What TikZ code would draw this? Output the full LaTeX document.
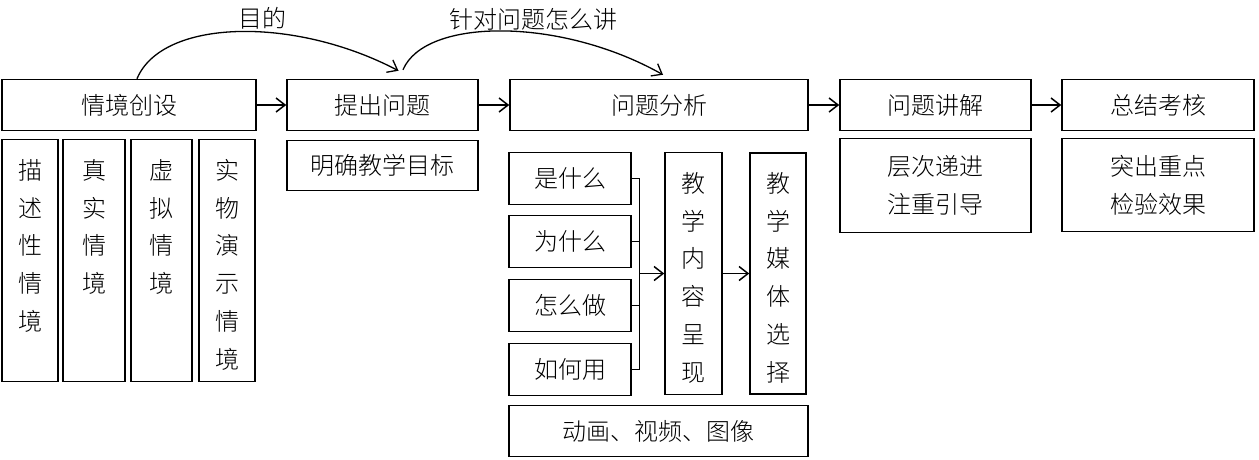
\documentclass[tikz,border=0pt]{standalone}
\usepackage{fontspec}
\IfFontExistsTF{Noto Sans CJK SC Light}
	{\setmainfont{Noto Sans CJK SC Light}}
	{\setmainfont{Noto Sans CJK SC}}
\usetikzlibrary{positioning,arrows.meta,calc}
\newcommand{\jxfont}{\fontsize{24pt}{37.7pt}\selectfont}
\newcommand{\jxvert}[1]{\parbox[c][202pt][t]{26pt}{\centering #1}}
\tikzset{
	jxbox/.style={
		draw,
		line width=1.5pt,
		align=center,
		inner sep=0pt,
		font=\jxfont
	},
	jxStep/.style={jxbox, minimum height=51pt},
	jxCol/.style={jxbox, minimum height=242pt},
	jxItem/.style={jxbox, minimum width=122pt, minimum height=52pt},
	jxLine/.style={line width=1.5pt},
	jxFlow/.style={-{Straight Barb[length=9pt,width=14pt]}, line width=1.5pt},
	jxArc/.style={-{Straight Barb[length=9pt,width=14pt]}, line width=1.3pt}
}

\begin{document}
\begin{tikzpicture}[x=1pt, y=-1pt]
	\useasboundingbox (0,0) rectangle (1259,459);

	% Main steps
	\node[jxStep, minimum width=254pt] (qjcs) at (129,105) {情境创设};
	\node[jxStep, minimum width=191pt, right=29.5pt of qjcs] (tcwt) {提出问题};
	\node[jxStep, minimum width=298pt, right=30.5pt of tcwt] (wtfx) {问题分析};
	\node[jxStep, minimum width=191pt, right=30.5pt of wtfx] (wtjj) {问题讲解};
	\node[jxStep, minimum width=192pt, right=29.5pt of wtjj] (zjkh) {总结考核};

	% Situation types
	\node[jxCol, minimum width=56pt, below right=7.5pt and 0pt of qjcs.south west] (msx) {\jxvert{描\\述\\性\\情\\境}};
	\node[jxCol, minimum width=62pt, right=3.5pt of msx] (zsqj) {\jxvert{真\\实\\情\\境}};
	\node[jxCol, minimum width=61pt, right=4.5pt of zsqj] (xnqj) {\jxvert{虚\\拟\\情\\境}};
	\node[jxCol, minimum width=56pt, right=5.5pt of xnqj] (swys) {\jxvert{实\\物\\演\\示\\情\\境}};

	% Goal
	\node[jxbox, minimum width=191pt, minimum height=50pt, below=8.5pt of tcwt] (mqmb) {明确教学目标};

	% Analysis items
	\node[jxItem, below right=20.5pt and -1pt of wtfx.south west] (smm) {是什么};
	\node[jxItem, below=9.5pt of smm] (wsm) {为什么};
	\node[jxItem, below=10.5pt of wsm] (zmz) {怎么做};
	\node[jxItem, below=10.5pt of zmz] (rhy) {如何用};
	\node[jxCol, minimum width=57pt, right=32.5pt of smm.north east, anchor=north west] (nrcx) {\jxvert{教\\学\\内\\容\\呈\\现}};
	\node[jxCol, minimum width=56pt, minimum height=241pt, right=26.5pt of nrcx] (mtxz) {\jxvert{教\\学\\媒\\体\\选\\择}};
	\node[jxbox, minimum width=299pt, minimum height=51pt, below right=8.5pt and 0pt of rhy.south west] (dhsp) {动画、视频、图像};

	% Explanation and summary
	\node[jxbox, minimum width=191pt, minimum height=94pt, below=6.5pt of wtjj] (ccdj) {层次递进\\注重引导};
	\node[jxbox, minimum width=192pt, minimum height=93pt, below=6.5pt of zjkh] (tczd) {突出重点\\检验效果};

	% Flows
	\draw[jxFlow] (qjcs) -- (tcwt);
	\draw[jxFlow] (tcwt) -- (wtfx);
	\draw[jxFlow] (wtfx) -- (wtjj);
	\draw[jxFlow] (wtjj) -- (zjkh);

	\coordinate[left=25pt of nrcx.west] (hub);
	\foreach \q in {smm,wsm,zmz,rhy}
		\draw[jxLine] (\q.east) -| (hub);
	\draw[jxFlow] (hub) -- (nrcx);
	\draw[jxFlow] (nrcx) -- (mtxz);

	% Arcs
	\draw[jxArc] ([xshift=8pt]qjcs.north) .. controls +(25,-60) and +(-105,-55) .. ([xshift=16pt,yshift=8pt]tcwt.north)
		node[pos=0.58, above, inner sep=2pt, font=\jxfont] {目的};
	\draw[jxArc] ([xshift=20.5pt,yshift=9pt]tcwt.north) .. controls +(22,-52) and +(-103,-58) .. ([xshift=4pt,yshift=4pt]wtfx.north)
		node[pos=0.6, above, inner sep=2pt, font=\jxfont] {针对问题怎么讲};

\end{tikzpicture}
\end{document}
